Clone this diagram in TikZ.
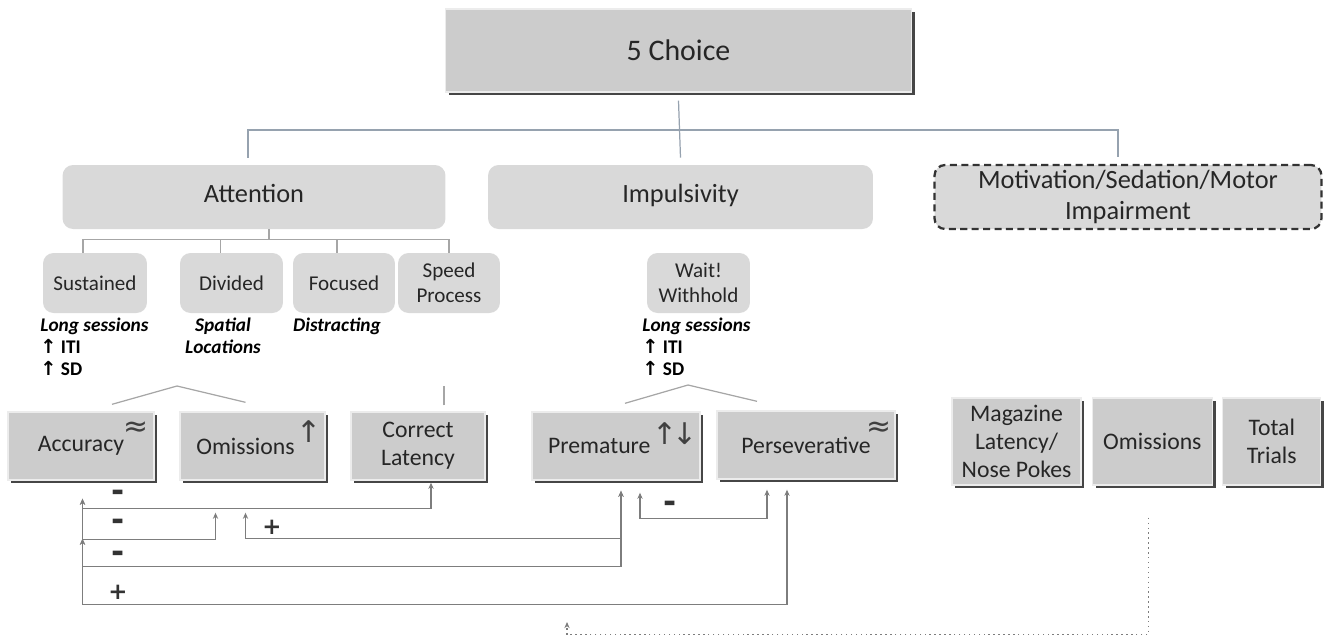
\documentclass[tikz,border=0pt]{standalone}
\usepackage{fontspec}
\setmainfont{Carlito}
\newfontfamily\dvsfont{DejaVu Sans}
\usetikzlibrary{positioning, shadows, calc, arrows.meta}

\definecolor{boxgray}{RGB}{204,204,204}
\definecolor{pillgray}{RGB}{217,217,217}
\definecolor{treegray}{RGB}{150,162,175}
\definecolor{linkgray}{RGB}{125,125,125}

\begin{document}
\begin{tikzpicture}[x=0.02cm, y=-0.02cm, node distance=0.16cm,
  bevel/.style={rectangle, fill=boxgray, draw=gray!15, line width=0.8pt, align=center, text=black!85, inner sep=1pt,
    font=\fontsize{13.5}{16}\selectfont,
    drop shadow={shadow xshift=1.8pt, shadow yshift=-1.8pt, fill=gray!55!black, opacity=1}},
  pill/.style={rectangle, rounded corners=6pt, fill=pillgray, align=center, text=black!85, inner sep=1pt},
  head/.style={pill, minimum height=1.28cm, font=\fontsize{15}{18}\selectfont},
  oneline/.style={text height=0.65em, text depth=0.05em},
  sub/.style={pill, minimum height=1.2cm, font=\fontsize{12}{14}\selectfont},
  note/.style={inner sep=0pt, align=left, font=\bfseries\fontsize{11}{12.5}\selectfont},
  glyph/.style={inner sep=0pt, text=gray!50!black, font=\dvsfont\fontsize{17}{17}\selectfont},
  sign/.style={inner sep=0pt, text=black!80, font=\dvsfont\bfseries\fontsize{13}{13}\selectfont},
  minus/.style={sign, font=\dvsfont\bfseries\fontsize{18}{18}\selectfont},
  tree/.style={draw=treegray, line width=0.7pt},
  comb/.style={draw=gray!70, line width=0.7pt},
  link/.style={draw=linkgray, line width=0.6pt, {Stealth[length=3.5pt,width=3pt]}-{Stealth[length=3.5pt,width=3pt]}},
  dots/.style={draw=linkgray, line width=0.8pt, dotted, -{Stealth[length=3.5pt,width=3pt]}}
]
\useasboundingbox (0,0) rectangle (1325,643);

% top level
\node[bevel, minimum width=9.32cm, minimum height=1.66cm, font=\fontsize{17}{20}\selectfont] (choice) at (678.5,50.5) {5 Choice};
\node[head, oneline, minimum width=7.66cm] (att) at (254,197) {Attention};
\node[head, oneline, minimum width=7.7cm] (imp) at (680.5,197) {Impulsivity};
\node[head, minimum width=7.74cm, draw=black!80, line width=1.3pt, dash pattern=on 4pt off 2.5pt] (mot) at (1128,197) {Motivation/Sedation/Motor\\Impairment};

\coordinate (hub) at (680,130);
\draw[tree] ($(choice.south)+(0,8)$) -- ($(imp.north)+(0,-7)$);
\draw[tree] ($(att.north)+(-6,-7)$) |- (hub) -| ($(mot.north)+(-10,-7)$);

% attention subtypes
\node[sub, minimum width=2.08cm] (sus) at (95,283) {Sustained};
\node[sub, minimum width=2.06cm] (div) at (231.5,283) {Divided};
\node[sub, minimum width=2.04cm] (foc) at (344,283) {Focused};
\node[sub, minimum width=2.04cm] (spd) at (449,283) {Speed\\Process};
\node[sub, minimum width=2.06cm] (wait) at (698.5,283) {Wait!\\Withhold};

\coordinate (ahub) at (269,240);
\draw[comb] ($(att.south)+(15,0)$) -- (ahub);
\draw[comb] ($(sus.north)+(-12,0)$) |- ($(spd.north)+(0,-13)$) -- (spd.north);
\draw[comb] ($(div.north)+(-11,0)$) -- ++(0,-13);
\draw[comb] ($(foc.north)+(-7,0)$) -- ++(0,-13);

\node[note, anchor=north west] (susn) at (40,318) {\textit{Long sessions}\\{\dvsfont ↑} ITI\\{\dvsfont ↑} SD};
\node[note, anchor=north, align=center] (divn) at (223,318) {\textit{Spatial}\\\textit{Locations}};
\node[note, anchor=north] (focn) at (337,318) {\textit{Distracting}};
\node[note, anchor=north west] (waitn) at (642,318) {\textit{Long sessions}\\{\dvsfont ↑} ITI\\{\dvsfont ↑} SD};

% measures
\node[bevel, minimum width=2.92cm, minimum height=1.36cm] (acc) at (81,446) {Accuracy};
\node[bevel, minimum width=2.9cm, minimum height=1.36cm] (omi) at (252.5,446) {Omissions\hspace{8pt}};
\node[bevel, minimum width=2.68cm, minimum height=1.36cm] (cl) at (418,446) {Correct\\Latency};
\node[bevel, minimum width=3.36cm, minimum height=1.36cm] (pre) at (616,446) {Premature\hspace{19pt}};
\node[bevel, minimum width=3.56cm, minimum height=1.36cm] (per) at (806,445) {Perseverative};

\node[bevel, minimum width=2.58cm, minimum height=1.74cm] (mag) at (1016.5,441.5) {Magazine\\Latency/\\Nose Pokes};
\node[bevel, minimum width=2.4cm, minimum height=1.74cm, right=0.2cm of mag] (omr) {Omissions};
\node[bevel, minimum width=1.96cm, minimum height=1.74cm, right=0.18cm of omr] (tot) {Total\\Trials};

\node[glyph] (accg) at ($(acc.north east)+(-19,18)$) {≈};
\node[glyph] (omig) at ($(omi.north east)+(-17,20)$) {↑};
\node[glyph] (preg) at ($(pre.north east)+(-26,22)$) {↑\kern-3pt↓};
\node[glyph] (perg) at ($(per.north east)+(-17,19)$) {≈};

\coordinate (ahat) at (177,386);
\coordinate (ihat) at (688,385);
\draw[comb] ($(acc.north)+(31,-7)$) -- (ahat) -- ($(omi.north)+(-7,-9)$);
\draw[comb] ($(cl.north)+(26,-6)$) -- ++(0,-19);
\draw[comb] ($(pre.north)+(9,-8)$) -- (ihat) -- ($(per.north)+(-49,-9)$);

% links between measures
\draw[link] ($(acc.south)+(1.5,18)$) -- ++(0,10) -| ($(cl.south)+(13,2)$);
\draw[link] ($(acc.south)+(1.5,18)$) -- ++(0,41) -| ($(omi.south)+(-37,32)$);
\draw[link] ($(acc.south)+(1.5,58)$) -- ++(0,28) -| ($(pre.south)+(5,10)$);
\draw[link] ($(acc.south)+(1.5,58)$) -- ++(0,66) -| ($(per.south)+(-19,10)$);
\draw[link] ($(omi.south)+(-7,32)$) -- ++(0,26) -| ($(pre.south)+(5,10)$);
\draw[link] ($(pre.south)+(24,12)$) -- ++(0,26) -| ($(per.south)+(-39,10)$);

\coordinate (dotend) at (567,622);
\draw[dots] ($(omr.south)+(-4,32)$) -- ++(0,117) -| (dotend);

\node[minus] (s1) at (118,496) {-};
\node[minus] (s2) at (118,525) {-};
\node[minus] (s3) at (118,557) {-};
\node[sign] (s4) at (118,592) {+};
\node[sign] (s5) at (272,527) {+};
\node[minus] (s6) at (670,507) {-};
\end{tikzpicture}
\end{document}
